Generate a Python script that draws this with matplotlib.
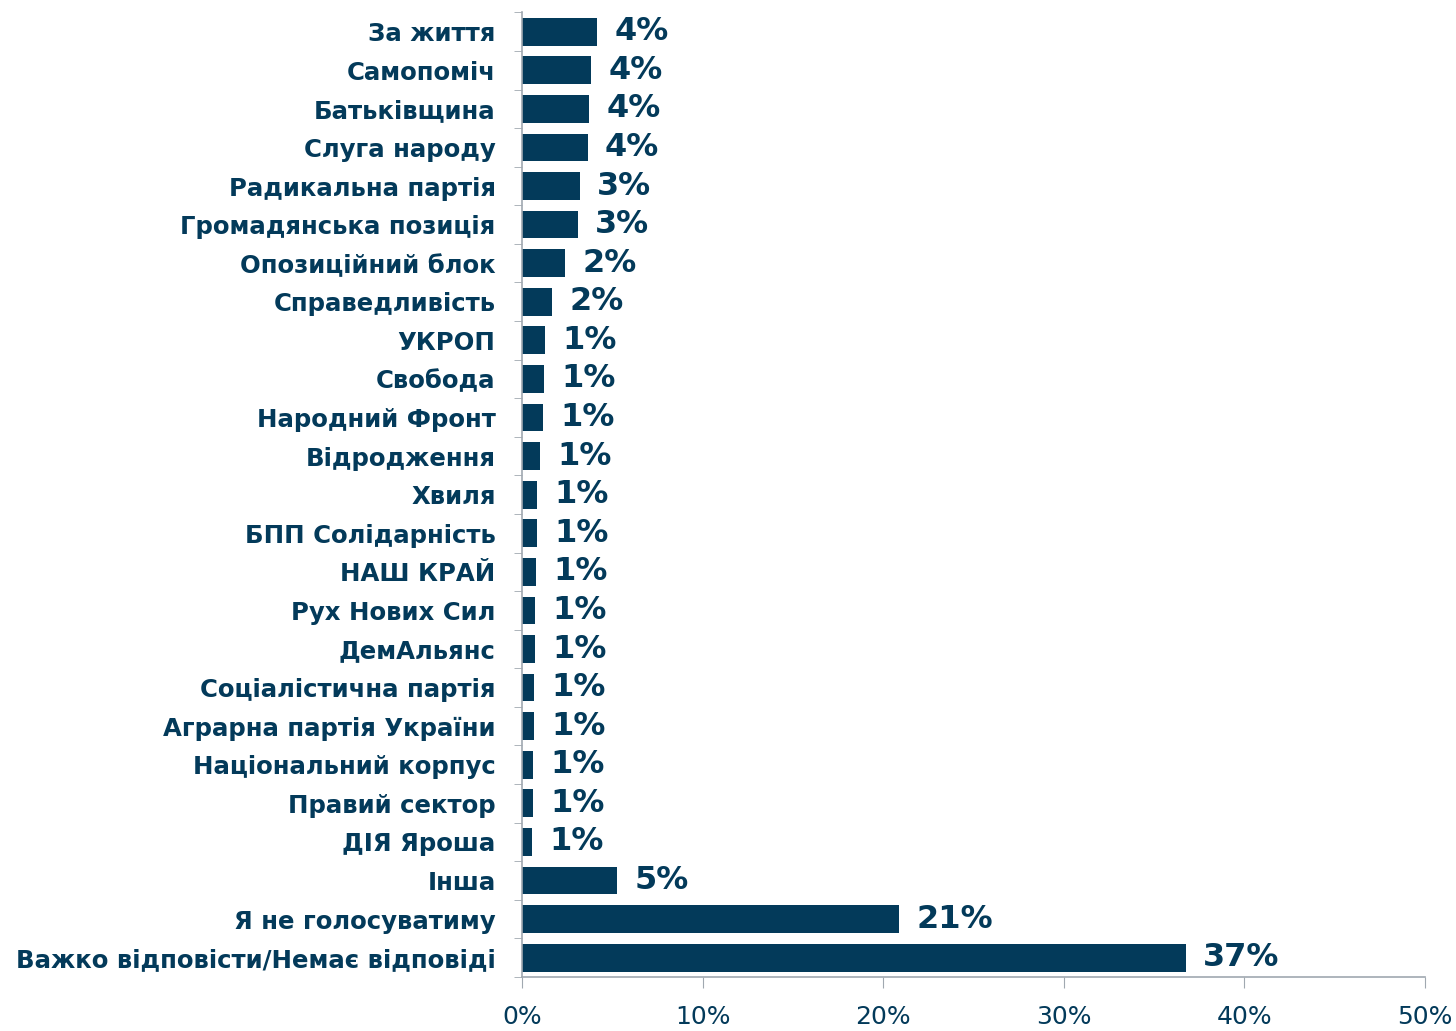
import matplotlib.pyplot as plt
import numpy as np

# категорії (зверху вниз)
parties = [
    'За життя', 'Самопоміч', 'Батьківщина', 'Слуга народу', 'Радикальна партія',
    'Громадянська позиція', 'Опозиційний блок', 'Справедливість', 'УКРОП', 'Свобода',
    'Народний Фронт', 'Відродження', 'Хвиля', 'БПП Солідарність', 'НАШ КРАЙ',
    'Рух Нових Сил', 'ДемАльянс', 'Соціалістична партія', 'Аграрна партія України',
    'Національний корпус', 'Правий сектор', 'ДІЯ Яроша', 'Інша', 'Я не голосуватиму',
    'Важко відповісти/Немає відповіді',
]
values = [
    4.15, 3.82, 3.71, 3.65, 3.21,
    3.10, 2.38, 1.66, 1.27, 1.22,
    1.16, 1.00, 0.83, 0.83, 0.78,
    0.72, 0.72, 0.66, 0.66,
    0.61, 0.61, 0.55, 5.26, 20.87,
    36.77,
]
xticks = [0, 10, 20, 30, 40, 50]

navy = '#033a5a'
gray = '#a0a8b0'

plt.rcParams['font.family'] = ['DejaVu Sans']

fig = plt.figure(figsize=(14.56, 10.31), dpi=100)
ax = fig.add_axes([0.3585, 0.0524, 0.6202, 0.9356])

y = np.arange(len(parties))
ax.barh(y, values, height=0.72, color=navy)
ax.set_ylim(len(parties) - 0.5, -0.5)
ax.set_xlim(0, 50)

# підписи значень
for yi, v in zip(y, values):
    ax.text(v + 0.95, yi, f'{round(v)}%', va='center', ha='left',
            fontsize=23, fontweight='bold', color=navy)

ax.set_yticks(y)
ax.set_yticklabels(parties, fontsize=17.6, fontweight='bold', color=navy)
ax.tick_params(axis='y', which='major', length=0, pad=19)
ax.set_yticks(np.arange(-0.5, len(parties), 1), minor=True)
ax.tick_params(axis='y', which='minor', length=6, color=gray, direction='out')

ax.set_xticks(xticks)
ax.set_xticklabels([f'{t}%' for t in xticks], fontsize=18, color=navy)
ax.tick_params(axis='x', length=8, color=gray, direction='out', pad=12)

for s in ['top', 'right']:
    ax.spines[s].set_visible(False)
for s in ['left', 'bottom']:
    ax.spines[s].set_color(gray)
    ax.spines[s].set_linewidth(1.2)

fig.savefig('out.png', dpi=100)
